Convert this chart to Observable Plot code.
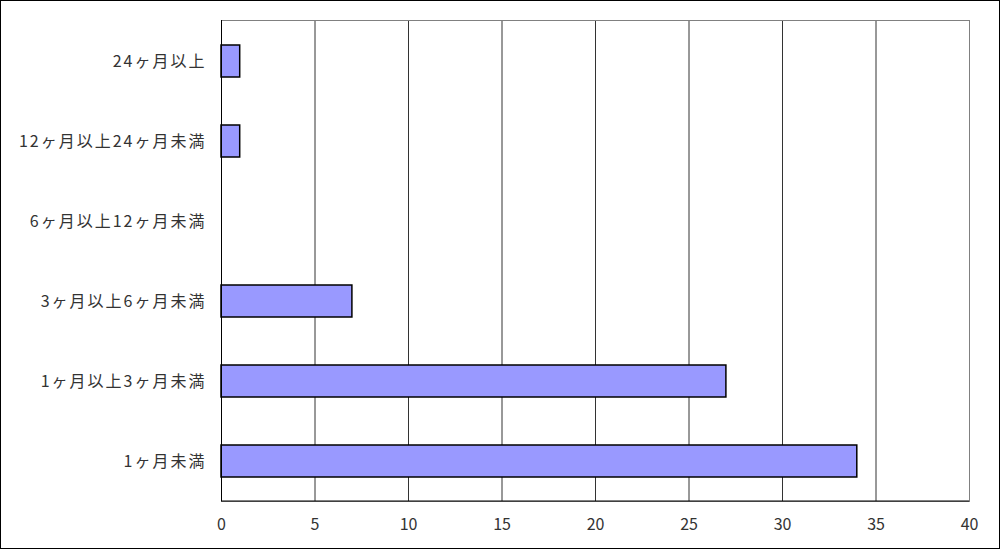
<!DOCTYPE html>
<html><head><meta charset="utf-8">
<script src="https://cdn.jsdelivr.net/npm/d3@7"></script>
<script src="https://cdn.jsdelivr.net/npm/@observablehq/plot@0.6"></script>
<style>
html,body{margin:0;padding:0;background:#fff;}
#wrap{position:relative;width:1000px;height:549px;}
#border{position:absolute;left:0;top:0;width:998px;height:547px;border:1px solid #000;pointer-events:none;}
</style>
</head><body>
<div id="wrap"><div id="border"></div></div>
<script>
const categories = ["24ヶ月以上","12ヶ月以上24ヶ月未満","6ヶ月以上12ヶ月未満","3ヶ月以上6ヶ月未満","1ヶ月以上3ヶ月未満","1ヶ月未満"];
const values = [1, 1, 0, 7, 27, 34];
const xTicks = [0,5,10,15,20,25,30,35,40];
const data = categories.map((c,i)=>({cat:c, value:values[i]}));

const chart = Plot.plot({
  width: 1000, height: 549,
  marginLeft: 221, marginTop: 20, marginRight: 31, marginBottom: 48,
  style: {fontFamily: "'Noto Sans CJK JP', 'Noto Sans', sans-serif", fontSize: "16px", color: "#333", background: "#fff"},
  x: {domain: [0, 40], ticks: xTicks, label: null},
  y: {domain: categories, paddingInner: 0.6, paddingOuter: 0.3, label: null},
  marks: [
    Plot.ruleX(xTicks.slice(1, -1), {stroke: "#333", strokeWidth: 1}),
    Plot.frame({stroke: "#808080"}),
    Plot.barX(data, {x: "value", y: "cat", fill: "#9999FF", stroke: "#000", strokeWidth: 1.5}),
    Plot.ruleX([0], {stroke: "#000", strokeWidth: 1}),
    Plot.axisX({ticks: xTicks, tickSize: 0, tickPadding: 17, fill: "#333"}),
    Plot.axisY({tickSize: 0, tickPadding: 15, fill: "#333"})
  ]
});
document.getElementById("wrap").prepend(chart);
const svg = d3.select(chart);
svg.selectAll('g[aria-label="y-axis tick label"] text').style("letter-spacing", "2px");
svg.append("line").attr("x1",221).attr("x2",969).attr("y1",501).attr("y2",501).attr("stroke","#000");
</script>
</body></html>
